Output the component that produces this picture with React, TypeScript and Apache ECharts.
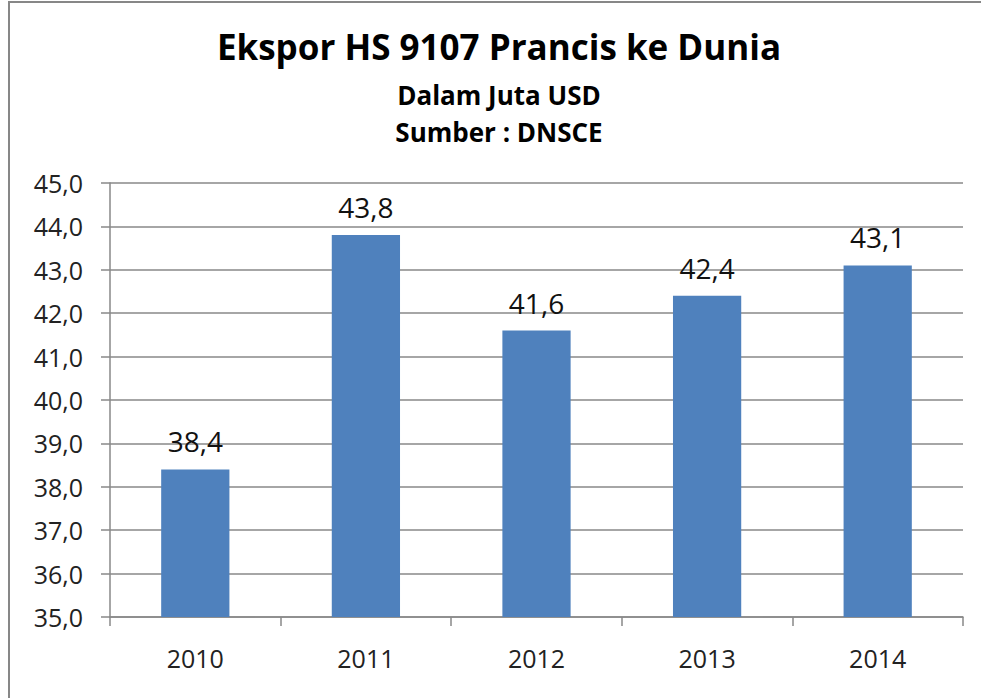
import React, { useEffect, useRef } from "react";
import * as echarts from "echarts";

const categories = ["2010", "2011", "2012", "2013", "2014"];
const values = [38.4, 43.8, 41.6, 42.4, 43.1];
const titleText = "Ekspor HS 9107 Prancis ke Dunia";
const subtitleLines = ["Dalam Juta USD", "Sumber : DNSCE"];

const FONT = "'Open Sans', sans-serif";
const fmt = (v: number) => v.toFixed(1).replace(".", ",");

export default function App() {
  const ref = useRef<HTMLDivElement>(null);
  useEffect(() => {
    document.body.style.margin = "0";
    const chart = echarts.init(ref.current!, null, { renderer: "svg" });
    chart.setOption({
      animation: false,
      backgroundColor: "#ffffff",
      graphic: [
        {
          type: "rect",
          shape: { x: 9, y: 2, width: 1000, height: 720 },
          style: { fill: "none", stroke: "#878787", lineWidth: 2 },
          z: 100,
        },
        {
          type: "text",
          x: 499,
          y: 46,
          style: {
            text: titleText,
            font: `bold 35px ${FONT}`,
            fill: "#000",
            align: "center",
            verticalAlign: "middle",
          },
        },
        {
          type: "text",
          x: 499,
          y: 95,
          style: {
            text: subtitleLines[0],
            font: `bold 26px ${FONT}`,
            fill: "#000",
            align: "center",
            verticalAlign: "middle",
          },
        },
        {
          type: "text",
          x: 499,
          y: 132,
          style: {
            text: subtitleLines[1],
            font: `bold 26px ${FONT}`,
            fill: "#000",
            align: "center",
            verticalAlign: "middle",
          },
        },
      ],
      grid: { left: 110, right: 18, top: 183, bottom: 81, containLabel: false },
      xAxis: {
        type: "category",
        data: categories,
        axisLine: { lineStyle: { color: "#888", width: 1.5 } },
        axisTick: { show: true, length: 9, lineStyle: { color: "#888", width: 1.5 } },
        axisLabel: { fontFamily: FONT, fontSize: 25, color: "#222", margin: 28 },
      },
      yAxis: {
        type: "value",
        min: 35,
        max: 45,
        interval: 1,
        axisLine: { show: true, lineStyle: { color: "#888", width: 1.5 } },
        axisTick: { show: true, length: 9, lineStyle: { color: "#888", width: 1.5 } },
        splitLine: { lineStyle: { color: "#888", width: 1.5 } },
        axisLabel: {
          fontFamily: FONT,
          fontSize: 25,
          color: "#222",
          margin: 27,
          formatter: (v: number) => fmt(v),
        },
      },
      series: [
        {
          type: "bar",
          data: values,
          barCategoryGap: "60%",
          itemStyle: { color: "#4F81BD" },
          label: {
            show: true,
            position: "top",
            distance: 14,
            fontFamily: FONT,
            fontSize: 28,
            color: "#111",
            formatter: (p: any) => fmt(p.value),
          },
        },
      ],
    });
    return () => chart.dispose();
  }, []);
  return <div ref={ref} style={{ width: 981, height: 698 }} />;
}
